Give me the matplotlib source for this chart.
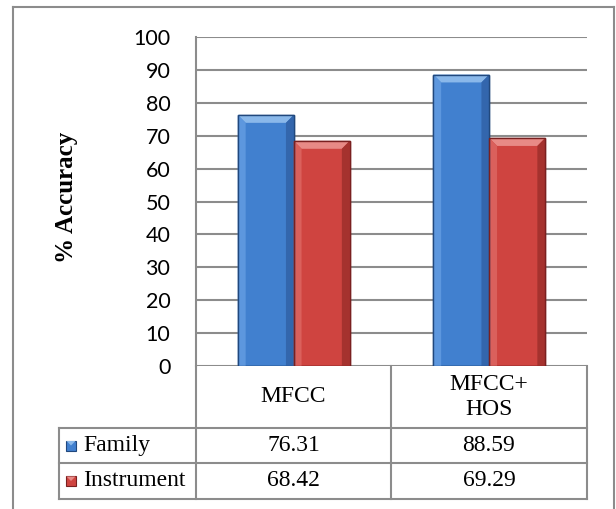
import numpy as np
import matplotlib
matplotlib.use("Agg")
import matplotlib.pyplot as plt
from matplotlib.lines import Line2D
from matplotlib.patches import Rectangle, Polygon

# Data
categories = ["MFCC", "MFCC+\nHOS"]
series_names = ["Family", "Instrument"]
family = [76.31, 88.59]
instrument = [68.42, 69.29]
yticks = [0, 10, 20, 30, 40, 50, 60, 70, 80, 90, 100]

W, H = 616, 509
fig = plt.figure(figsize=(W / 100, H / 100), dpi=100)

def fx(px):
    return px / W

def fy(py):
    return 1 - py / H

grey = "#8c8c8c"
serif = "Liberation Serif"

# Plot area
ax = fig.add_axes([fx(196), fy(366), fx(587) - fx(196), fy(37) - fy(366)])
ax.set_xlim(-0.5, 1.5)
ax.set_ylim(0, 100)
ax.set_yticks(yticks)
ax.set_xticks([])
for s in ["top", "right", "bottom"]:
    ax.spines[s].set_visible(False)
ax.spines["left"].set_color(grey)
ax.spines["left"].set_linewidth(1.5)
ax.tick_params(axis="y", length=0, pad=18.5, labelsize=15.5)
for lab in ax.get_yticklabels():
    lab.set_fontfamily("Lato")
ax.yaxis.grid(True, color=grey, linewidth=1.5)
ax.set_axisbelow(True)

x = np.arange(len(categories))
bw = 0.286
face = ["#4180cf", "#cf4440"]
light = ["#8ab8ea", "#e88a86"]
dark = ["#21487d", "#7a2020"]
side_l = ["#5d97de", "#da605c"]
side_r = ["#3366ad", "#a5322e"]

bars_f = ax.bar(x - bw / 2, family, bw, color=face[0], edgecolor=dark[0], linewidth=1.0, zorder=3)
bars_i = ax.bar(x + bw / 2, instrument, bw, color=face[1], edgecolor=dark[1], linewidth=1.0, zorder=3)

# bevel effect derived from the bar patches
dx = 0.04
dy = 2.4
for k, bars in enumerate([bars_f, bars_i]):
    for b in bars:
        x0 = b.get_x()
        x1 = x0 + b.get_width()
        h = b.get_height()
        ax.add_patch(Polygon([(x0, h), (x1, h), (x1 - dx, h - dy), (x0 + dx, h - dy)],
                             closed=True, facecolor=light[k], edgecolor="none", zorder=4))
        ax.add_patch(Polygon([(x0, 0), (x0, h), (x0 + dx, h - dy), (x0 + dx, 0)],
                             closed=True, facecolor=side_l[k], edgecolor="none", zorder=4))
        ax.add_patch(Polygon([(x1, 0), (x1, h), (x1 - dx, h - dy), (x1 - dx, 0)],
                             closed=True, facecolor=side_r[k], edgecolor="none", zorder=4))
        ax.add_patch(Rectangle((x0, 0), b.get_width(), h, facecolor="none",
                               edgecolor=dark[k], linewidth=1.0, zorder=5))

fig.text(fx(67), (fy(130) + fy(265)) / 2, "% Accuracy", rotation=90, ha="center", va="center",
         fontfamily=serif, fontweight="bold", fontsize=18)

# Data table
col_edges = [196, 391, 587]
row_edges = [366, 428, 463, 499]
left_edge = 59

def hline(x0, x1, y):
    fig.add_artist(Line2D([fx(x0), fx(x1)], [fy(y), fy(y)], color=grey, linewidth=1.5))

def vline(x, y0, y1):
    fig.add_artist(Line2D([fx(x), fx(x)], [fy(y0), fy(y1)], color=grey, linewidth=1.5))

for yy in row_edges[1:]:
    hline(left_edge, col_edges[-1], yy)
vline(left_edge, row_edges[1], row_edges[-1])
for xx in col_edges:
    vline(xx, row_edges[0], row_edges[-1])

for j, cat in enumerate(categories):
    cx = (col_edges[j] + col_edges[j + 1]) / 2
    fig.text(fx(cx), fy((row_edges[0] + row_edges[1]) / 2), cat, ha="center", va="center",
             fontfamily=serif, fontsize=17, linespacing=1.2)
    for r, vals in enumerate([family, instrument]):
        cy = (row_edges[r + 1] + row_edges[r + 2]) / 2
        fig.text(fx(cx), fy(cy), f"{vals[j]:.2f}", ha="center", va="center",
                 fontfamily=serif, fontsize=17)

for r, name in enumerate(series_names):
    cy = (row_edges[r + 1] + row_edges[r + 2]) / 2
    fig.add_artist(Rectangle((fx(66), fy(cy + 5)), fx(10), 10 / H, transform=fig.transFigure,
                             facecolor=face[r], edgecolor=dark[r], linewidth=0.8))
    fig.add_artist(Polygon([(fx(66.5), fy(cy - 4.5)), (fx(75.5), fy(cy - 4.5)), (fx(71), fy(cy))],
                           closed=True, transform=fig.transFigure, facecolor=light[r], edgecolor="none"))
    fig.text(fx(83), fy(cy), name, ha="left", va="center", fontfamily=serif, fontsize=17)

# Outer chart frame
fig.add_artist(Line2D([fx(13), fx(614)], [fy(7), fy(7)], color=grey, linewidth=1.5))
fig.add_artist(Line2D([fx(13), fx(13)], [fy(7), 0], color=grey, linewidth=1.5))
fig.add_artist(Line2D([fx(614), fx(614)], [fy(7), 0], color=grey, linewidth=1.5))

fig.savefig("out.png", dpi=100)
plt.close(fig)
